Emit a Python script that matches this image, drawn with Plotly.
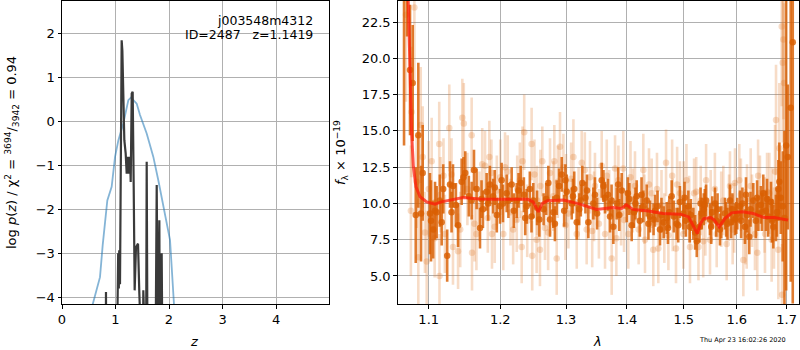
import plotly.graph_objects as go

# ---------------- Left panel: p(z) ----------------
prior_z = [0.573, 0.648, 0.710, 0.760, 0.847, 0.928, 0.991, 1.054, 1.146, 1.240,
           1.290, 1.396, 1.458, 1.583, 1.707, 1.800, 1.925, 2.019, 2.050, 2.093]
prior_logp = [-4.16, -3.84, -3.54, -2.82, -1.80, -1.49, -0.81, -0.43, -0.05, 0.48,
              0.54, 0.40, 0.14, -0.28, -0.81, -1.34, -2.10, -2.70, -3.31, -4.16]

pz_z = [0.780, 0.815, 0.822, 0.829, 1.020, 1.034, 1.050, 1.062, 1.070, 1.084,
        1.100, 1.115, 1.128, 1.146, 1.165, 1.190, 1.209, 1.234, 1.246, 1.271,
        1.284, 1.303, 1.321, 1.340, 1.358, 1.383, 1.421, 1.445, 1.460, 1.508,
        1.520, 1.532, 1.570, 1.583, 1.600, 1.745, 1.770, 1.782, 1.795, 1.819,
        1.832, 1.863, 1.880, 2.000]
pz_logp = [-6.0, -6.0, -3.88, -6.0, -6.0, -3.76, -3.00, -3.80, -2.93, -3.70,
           -1.50, 1.84, 1.60, 0.48, -0.43, -0.73, -1.19, -0.81, -1.19, -0.81,
           -1.38, 0.63, 0.67, -1.49, -3.84, -2.86, -2.78, -3.90, -6.0, -6.0,
           -3.84, -6.0, -6.0, -0.92, -6.0, -6.0, -1.45, -1.75, -6.0, -2.25,
           -6.0, -3.00, -6.0, -6.0]

left_xticks = [0, 1, 2, 3, 4]
left_yticks = [-4, -3, -2, -1, 0, 1, 2]

# ---------------- Right panel: spectrum ----------------
light_lam = [
    1.0700, 1.0764, 1.0773, 1.0810, 1.0862, 1.0894, 1.0920, 1.0973, 1.1000, 1.1040,
    1.1142, 1.1145, 1.1219, 1.1279, 1.1330, 1.1400, 1.1459, 1.1480, 1.1590, 1.1595,
    1.1657, 1.1780, 1.1842, 1.1872, 1.1880, 1.2045, 1.2070, 1.2243, 1.2317, 1.2330,
    1.2355, 1.2467, 1.2476, 1.2543, 1.2594, 1.2630, 1.2671, 1.2749, 1.2816, 1.2853,
    1.2905, 1.2958, 1.3037, 1.3117, 1.3170, 1.3250, 1.3330, 1.3384, 1.3465, 1.3576,
    1.3631, 1.3742, 1.3798, 1.3854, 1.3937, 1.3950, 1.4022, 1.4137, 1.4281, 1.4310,
    1.4427, 1.4455, 1.4543, 1.4681, 1.4723, 1.4790, 1.4860, 1.4932, 1.4993, 1.5115,
    1.5190, 1.5271, 1.5314, 1.5414, 1.5487, 1.5614, 1.5740, 1.5804, 1.5868, 1.5965,
    1.6049, 1.6128, 1.6194, 1.6273, 1.6358, 1.6404, 1.6457, 1.6558, 1.6646, 1.6693,
    1.6762, 1.6782, 1.6829, 1.6850, 1.6899, 1.6919, 1.6933, 1.6946, 1.6905, 1.1160,
    1.1950, 1.2150, 1.2550, 1.3000, 1.3450, 1.3900, 1.4300, 1.4800, 1.5100, 1.5500,
    1.5950, 1.6300, 1.6700, 1.1700, 1.2250, 1.2800, 1.3200, 1.3700, 1.4100, 1.4600,
    1.5000, 1.5400, 1.5850, 1.6200, 1.6550,
    1.0840, 1.0950, 1.1080, 1.1200, 1.1310, 1.1430, 1.1530, 1.1630, 1.1740, 1.1820,
    1.1920, 1.2000, 1.2110, 1.2190, 1.2290, 1.2400, 1.2510, 1.2600, 1.2720, 1.2870,
    1.2990, 1.3080, 1.3300, 1.3420, 1.3530, 1.3660, 1.3820, 1.4060, 1.4200, 1.4380,
    1.4520, 1.4650, 1.4880, 1.5050, 1.5230, 1.5360, 1.5580, 1.5700, 1.5920, 1.6080,
    1.6170, 1.6420, 1.6600, 1.6740]
light_flux = [
    23.0, 9.5, 16.3, 23.5, 6.3, 15.4, 13.2, 6.0, 11.0, 12.9,
    14.1, 5.0, 7.9, 15.2, 7.0, 6.7, 15.9, 15.5, 14.7, 6.6,
    7.9, 12.6, 13.2, 12.1, 7.9, 7.9, 12.5, 8.85, 7.0, 12.9,
    14.9, 14.1, 6.4, 7.5, 6.8, 12.9, 8.3, 12.1, 12.9, 6.2,
    13.9, 12.5, 9.3, 13.2, 7.9, 12.8, 8.2, 11.8, 11.2, 12.6,
    7.9, 6.2, 12.4, 11.6, 12.4, 8.85, 7.9, 11.2, 12.3, 7.5,
    10.7, 6.8, 6.9, 12.8, 7.8, 11.9, 6.9, 10.7, 7.9, 7.0,
    10.7, 7.0, 10.2, 11.6, 7.5, 7.9, 10.2, 7.2, 11.2, 11.4,
    11.6, 6.1, 7.9, 11.2, 7.9, 6.6, 10.7, 7.9, 10.7, 7.5,
    12.2, 15.75, 6.8, 13.8, 22.2, 19.7, 21.3, 18.3, 3.7, 10.6,
    10.9, 9.4, 10.2, 10.9, 9.8, 9.3, 9.6, 9.2, 9.6, 9.9,
    9.0, 9.5, 9.9, 9.8, 11.0, 10.5, 10.0, 9.9, 10.2, 9.9,
    10.4, 8.8, 9.7, 10.3, 9.2,
    11.5, 8.0, 7.6, 11.9, 12.0, 8.2, 11.0, 8.6, 12.7, 9.0,
    8.4, 11.8, 12.2, 8.2, 11.6, 8.8, 12.0, 11.2, 8.0, 11.5,
    8.5, 11.7, 12.3, 8.1, 8.6, 11.9, 7.6, 11.8, 8.2, 11.3,
    11.0, 8.3, 11.3, 11.6, 10.8, 7.4, 11.0, 9.6, 8.2, 10.6,
    8.4, 11.9, 10.8, 8.3]
light_err = [
    6.0, 4.5, 4.5, 5.0, 4.0, 4.0, 3.5, 3.5, 3.3, 3.0,
    2.9, 2.9, 2.7, 3.0, 2.6, 2.6, 2.7, 2.8, 2.6, 2.6,
    2.5, 2.4, 2.5, 2.3, 2.4, 2.5, 2.4, 2.2, 2.5, 2.4,
    2.6, 2.5, 2.4, 2.3, 2.5, 2.4, 2.2, 2.4, 2.5, 2.5,
    2.4, 2.3, 2.4, 2.6, 2.4, 2.2, 2.4, 2.5, 2.3, 2.4,
    2.4, 2.5, 2.3, 2.4, 2.6, 2.2, 2.4, 2.4, 2.5, 2.3,
    2.4, 2.5, 2.4, 2.3, 2.4, 2.5, 2.4, 2.2, 2.4, 2.5,
    2.4, 2.3, 2.4, 2.5, 2.4, 2.3, 2.4, 2.5, 2.4, 2.4,
    2.5, 2.5, 2.4, 2.6, 2.5, 2.6, 2.6, 2.7, 2.8, 2.9,
    3.2, 3.8, 3.4, 4.5, 5.5, 5.5, 5.5, 5.5, 3.5, 2.6,
    2.4, 2.3, 2.4, 2.5, 2.4, 2.2, 2.4, 2.5, 2.3, 2.4,
    2.4, 2.5, 2.6, 2.4, 2.3, 2.4, 2.5, 2.4, 2.2, 2.4,
    2.5, 2.4, 2.3, 2.4, 2.6,
    3.2, 2.8, 2.7, 2.6, 2.5, 2.6, 2.5, 2.6, 2.5, 2.4,
    2.5, 2.6, 2.5, 2.4, 2.6, 2.5, 2.4, 2.5, 2.6, 2.5,
    2.4, 2.5, 2.6, 2.5, 2.4, 2.5, 2.6, 2.5, 2.4, 2.5,
    2.5, 2.4, 2.6, 2.5, 2.4, 2.5, 2.5, 2.6, 2.4, 2.5,
    2.6, 2.5, 2.7, 2.8]

dark_lam = [
    1.0675, 1.0714, 1.0753, 1.0788, 1.0828, 1.0862, 1.0898, 1.0920, 1.1017, 1.1031,
    1.1085, 1.1107, 1.1150, 1.1196, 1.1250, 1.1289, 1.1330, 1.1370, 1.1400, 1.1450,
    1.1500, 1.1550, 1.1623, 1.1660, 1.1708, 1.1750, 1.1803, 1.1850, 1.1897, 1.1950,
    1.1997, 1.2040, 1.2094, 1.2168, 1.2200, 1.2243, 1.2302, 1.2350, 1.2392, 1.2440,
    1.2492, 1.2584, 1.2650, 1.2723, 1.2749, 1.2800, 1.2853, 1.2890, 1.2932, 1.2970,
    1.3011, 1.3090, 1.3130, 1.3170, 1.3210, 1.3260, 1.3310, 1.3357, 1.3438, 1.3500,
    1.3576, 1.3631, 1.3680, 1.3714, 1.3770, 1.3826, 1.3870, 1.3910, 1.3995, 1.4040,
    1.4080, 1.4120, 1.4166, 1.4220, 1.4281, 1.4340, 1.4397, 1.4485, 1.4530, 1.4573,
    1.4640, 1.4693, 1.4740, 1.4782, 1.4872, 1.4930, 1.4993, 1.5040, 1.5085, 1.5130,
    1.5177, 1.5240, 1.5290, 1.5333, 1.5370, 1.5414, 1.5487, 1.5530, 1.5582, 1.5630,
    1.5676, 1.5772, 1.5820, 1.5868, 1.5915, 1.5965, 1.6010, 1.6062, 1.6110, 1.6160,
    1.6200, 1.6245, 1.6325, 1.6375, 1.6424, 1.6475, 1.6524, 1.6575, 1.6625, 1.6680,
    1.6727, 1.6780, 1.6829, 1.6850, 1.6919, 1.6990, 1.7023, 1.7085, 1.7127,
    1.1060, 1.1175, 1.1310, 1.1475, 1.1590, 1.1730, 1.1825, 1.1920, 1.2020, 1.2120,
    1.2270, 1.2370, 1.2465, 1.2550, 1.2690, 1.2825, 1.2990, 1.3110, 1.3235, 1.3335,
    1.3465, 1.3605, 1.3740, 1.3850, 1.4015, 1.4145, 1.4250, 1.4370, 1.4460, 1.4600,
    1.4715, 1.4820, 1.4900, 1.5015, 1.5110, 1.5210, 1.5310, 1.5390, 1.5510, 1.5605,
    1.5700, 1.5795, 1.5890, 1.5990, 1.6085, 1.6180, 1.6270, 1.6400, 1.6500, 1.6600,
    1.6700, 1.6800, 1.6880, 1.6955]
dark_flux = [
    25.0, 27.0, 19.2, 18.3, 9.2, 14.7, 9.3, 12.1, 9.3, 8.8,
    9.5, 9.4, 10.2, 11.0, 6.4, 11.3, 11.2, 9.9, 8.5, 11.5,
    12.1, 10.5, 12.3, 11.0, 8.3, 9.6, 10.8, 11.3, 10.5, 9.2,
    9.8, 10.0, 10.7, 11.3, 9.5, 10.2, 11.4, 10.6, 9.8, 11.0,
    10.2, 8.9, 9.6, 11.4, 8.9, 9.4, 10.4, 11.2, 12.0, 9.5,
    10.8, 10.0, 11.0, 8.7, 9.6, 11.4, 10.4, 8.7, 10.0, 9.3,
    11.6, 10.4, 10.6, 9.1, 8.4, 10.0, 9.2, 10.9, 9.8, 10.3,
    8.5, 9.4, 10.5, 8.8, 9.8, 10.2, 9.1, 9.5, 9.8, 8.2,
    8.7, 9.0, 9.4, 10.5, 8.6, 10.1, 9.3, 8.8, 9.8, 9.2,
    8.6, 7.4, 8.4, 9.3, 9.6, 10.2, 8.9, 9.4, 10.0, 9.6,
    8.2, 9.3, 8.6, 10.2, 9.6, 8.9, 9.3, 9.8, 10.0, 8.4,
    9.2, 7.7, 10.2, 8.8, 9.3, 9.9, 10.7, 9.5, 9.1, 10.1,
    8.4, 9.0, 11.0, 11.5, 9.8, 14.0, 13.2, 16.6, 21.1,
    8.2, 8.7, 9.4, 11.8, 10.2, 10.3, 10.0, 11.1, 11.6, 10.2,
    10.9, 9.0, 9.1, 9.7, 10.3, 8.6, 11.6, 10.5, 10.2, 10.9,
    10.6, 11.2, 10.2, 11.3, 10.7, 10.0, 10.6, 8.6, 8.9, 9.2,
    8.3, 9.1, 8.5, 10.4, 8.4, 8.0, 10.0, 9.9, 8.4, 8.8,
    8.7, 8.9, 8.7, 9.0, 8.8, 10.6, 9.6, 10.4, 9.4, 10.3,
    8.8, 9.4, 10.4, 9.0]
dark_err = [
    11.0, 5.5, 4.5, 4.0, 3.3, 5.0, 3.3, 3.3, 2.8, 2.8,
    2.0, 1.8, 1.8, 1.7, 1.8, 1.6, 1.5, 1.5, 1.5, 1.6,
    1.5, 1.4, 1.4, 1.4, 1.4, 1.3, 1.3, 1.3, 1.2, 1.2,
    1.2, 1.3, 1.3, 1.2, 1.2, 1.2, 1.2, 1.2, 1.2, 1.2,
    1.2, 1.2, 1.1, 1.2, 1.2, 1.1, 1.2, 1.2, 1.2, 1.1,
    1.2, 1.1, 1.2, 1.2, 1.1, 1.2, 1.1, 1.1, 1.1, 1.1,
    1.2, 1.1, 1.1, 1.1, 1.2, 1.1, 1.1, 1.2, 1.1, 1.1,
    1.1, 1.1, 1.1, 1.1, 1.1, 1.1, 1.1, 1.1, 1.1, 1.1,
    1.1, 1.1, 1.1, 1.1, 1.1, 1.1, 1.1, 1.1, 1.1, 1.1,
    1.1, 1.1, 1.1, 1.1, 1.1, 1.1, 1.1, 1.1, 1.1, 1.1,
    1.1, 1.1, 1.1, 1.1, 1.1, 1.1, 1.1, 1.1, 1.1, 1.2,
    1.2, 1.2, 1.2, 1.2, 1.2, 1.3, 1.3, 1.4, 1.4, 1.4,
    1.5, 1.6, 2.0, 2.7, 3.8, 10.0, 5.0, 12.0, 18.0,
    2.0, 1.6, 1.4, 1.4, 1.3, 1.3, 1.2, 1.2, 1.2, 1.2,
    1.2, 1.2, 1.1, 1.2, 1.1, 1.2, 1.1, 1.2, 1.1, 1.1,
    1.2, 1.1, 1.1, 1.2, 1.1, 1.1, 1.2, 1.1, 1.1, 1.2,
    1.1, 1.1, 1.2, 1.1, 1.1, 1.2, 1.1, 1.1, 1.2, 1.1,
    1.1, 1.2, 1.1, 1.1, 1.2, 1.2, 1.2, 1.2, 1.3, 1.4,
    1.5, 1.7, 2.5, 6.0]

model_lam = [1.0730, 1.0750, 1.0774, 1.0797, 1.0831, 1.0885, 1.0973, 1.1085, 1.1170, 1.1470,
             1.1700, 1.1930, 1.2173, 1.2410, 1.2490, 1.2570, 1.2630, 1.2710, 1.2960, 1.3220,
             1.3490, 1.3770, 1.3910, 1.3990, 1.4100, 1.4340, 1.4630, 1.4940, 1.5090, 1.5180,
             1.5250, 1.5310, 1.5370, 1.5500, 1.5570, 1.5660, 1.5770, 1.5900, 1.6110, 1.6320,
             1.6530, 1.6750, 1.6930, 1.7030]
model_flux = [24.0, 19.43, 14.83, 12.53, 11.15, 10.46, 10.11, 9.95, 10.11, 10.41,
              10.30, 10.28, 10.28, 10.28, 10.11, 9.42, 10.00, 10.18, 10.23, 9.95,
              9.59, 9.72, 9.65, 9.90, 9.59, 9.49, 9.31, 9.26, 9.07, 8.38,
              7.93, 8.62, 8.96, 9.03, 8.85, 8.38, 8.96, 9.35, 9.42, 9.31,
              9.03, 9.03, 8.90, 8.85]

right_xticks = [1.1, 1.2, 1.3, 1.4, 1.5, 1.6, 1.7]
right_yticks = [5.0, 7.5, 10.0, 12.5, 15.0, 17.5, 20.0, 22.5]

assert len(light_lam) == len(light_flux) == len(light_err)
assert len(dark_lam) == len(dark_flux) == len(dark_err)
assert len(model_lam) == len(model_flux)

W, H = 800, 350
FONT = "DejaVu Sans"
ORANGE_DARK = "rgba(217,95,2,0.82)"
ORANGE_LIGHT = "rgba(225,120,40,0.26)"

fig = go.Figure()

fig.add_trace(go.Scatter(x=prior_z, y=prior_logp, mode="lines",
                         line=dict(color="rgba(31,119,180,0.55)", width=1.8),
                         xaxis="x", yaxis="y", showlegend=False))
fig.add_trace(go.Scatter(x=pz_z, y=pz_logp, mode="lines",
                         line=dict(color="#3a3a3a", width=2.2),
                         xaxis="x", yaxis="y", showlegend=False))

fig.add_trace(go.Scatter(x=light_lam, y=light_flux, mode="markers",
                         marker=dict(color=ORANGE_LIGHT, size=6.5),
                         error_y=dict(type="data", array=light_err, color=ORANGE_LIGHT,
                                      thickness=2.6, width=0),
                         xaxis="x2", yaxis="y2", showlegend=False))
fig.add_trace(go.Scatter(x=dark_lam, y=dark_flux, mode="markers",
                         marker=dict(color=ORANGE_DARK, size=6.5),
                         error_y=dict(type="data", array=dark_err, color=ORANGE_DARK,
                                      thickness=2.6, width=0),
                         xaxis="x2", yaxis="y2", showlegend=False))
fig.add_trace(go.Scatter(x=model_lam, y=model_flux, mode="lines",
                         line=dict(color="rgba(255,25,10,0.72)", width=3),
                         xaxis="x2", yaxis="y2", showlegend=False))

def px2fx(px):
    return px / W

def py2fy(py):
    return 1 - py / H

axis_common = dict(showline=True, linecolor="black", linewidth=1, mirror=True,
                   ticks="outside", ticklen=3.5, tickwidth=0.8, tickcolor="black",
                   showgrid=True, gridcolor="#b0b0b0", gridwidth=0.8, zeroline=False,
                   automargin=False,
                   tickfont=dict(family=FONT, size=13, color="black"))

fig.update_layout(
    width=W, height=H,
    margin=dict(l=0, r=0, t=0, b=0, autoexpand=False),
    paper_bgcolor="white", plot_bgcolor="white",
    font=dict(family=FONT, size=13, color="black"),
    xaxis=dict(domain=[px2fx(62), px2fx(329)], range=[0, 4.99],
               tickvals=left_xticks, anchor="y", **axis_common),
    yaxis=dict(domain=[py2fy(304), py2fy(1)], range=[-4.15, 2.73],
               tickvals=left_yticks, anchor="x", **axis_common),
    xaxis2=dict(domain=[px2fx(397.7), px2fx(799.3)], type="log",
                range=[0.02502, 0.23714], tickvals=right_xticks,
                ticktext=[f"{v:.1f}" for v in right_xticks], anchor="y2", **axis_common),
    yaxis2=dict(domain=[py2fy(304), py2fy(1)], range=[3.07, 23.95],
                tickvals=right_yticks, ticktext=[f"{v:.1f}" for v in right_yticks],
                anchor="x2", **axis_common),
)

ann = [
    dict(text="j003548m4312", x=px2fx(315), y=py2fy(20), xanchor="right", yanchor="middle",
         font=dict(size=12.5)),
    dict(text="ID=2487\u00a0\u00a0\u00a0z=1.1419", x=px2fx(315), y=py2fy(35),
         xanchor="right", yanchor="middle", font=dict(size=12.5)),
    dict(text="<i>z</i>", x=px2fx(194), y=py2fy(341), xanchor="center", yanchor="middle",
         font=dict(size=13)),
    dict(text="<i>λ</i>", x=px2fx(597), y=py2fy(341), xanchor="center", yanchor="middle",
         font=dict(size=13)),
    dict(text="log <i>p</i>(<i>z</i>) / χ<sup>2</sup> = <sup>3694</sup>/<sub>3942</sub> = 0.94",
         x=px2fx(12), y=py2fy(153), textangle=-90, xanchor="center", yanchor="middle",
         font=dict(size=13)),
    dict(text="<i>f</i><sub>λ</sub> × 10<sup>−19</sup>",
         x=px2fx(341), y=py2fy(153), textangle=-90, xanchor="center", yanchor="middle",
         font=dict(size=13)),
    dict(text="Thu Apr 23 16:02:26 2020", x=px2fx(742), y=py2fy(340), xanchor="center",
         yanchor="middle", font=dict(size=6.5)),
]
for a in ann:
    a.update(xref="paper", yref="paper", showarrow=False)
    fig.add_annotation(**a)

fig.write_html("out.html", config={"displayModeBar": False},
               post_script="document.body.style.margin='0';document.body.style.overflow='hidden';")
